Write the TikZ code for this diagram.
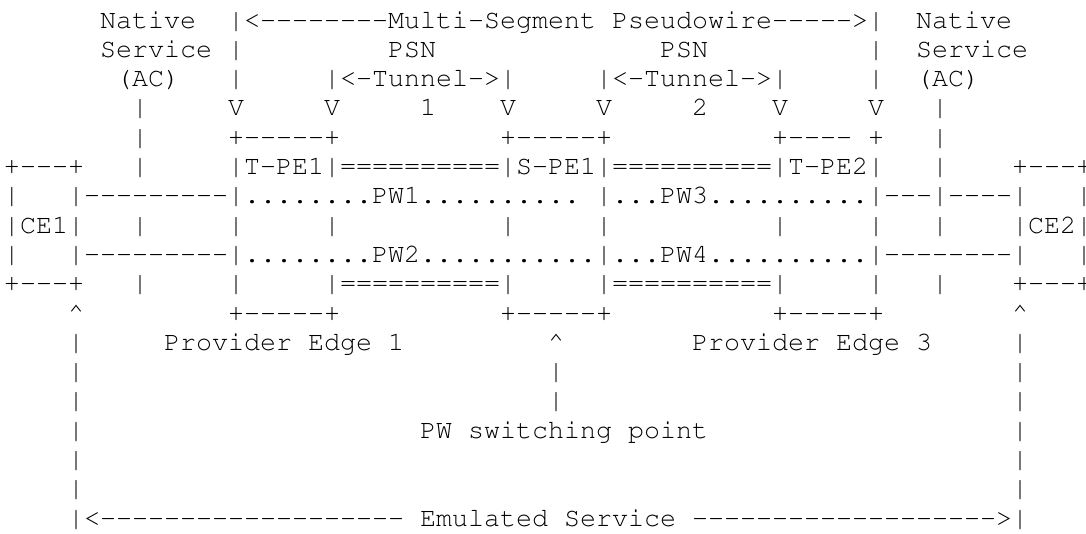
\documentclass[tikz,border=0pt]{standalone}
\usepackage[T1,TU]{fontenc}
\ExplSyntaxOn
\cs_new:Npn \dsh #1 { \prg_replicate:nn {#1} { -{} } }
\cs_new:Npn \eqs #1 { \prg_replicate:nn {#1} { = } }
\cs_new:Npn \dts #1 { \prg_replicate:nn {#1} { . } }
\ExplSyntaxOff
\newcommand\ascii[4]{\node[txt] (#1) at ({4+16*(#2)},{28+29.3*((#3)-1)}) {#4};}
\newcommand\crt{\char94}
\begin{document}
\begin{tikzpicture}[x=1pt,y=-1pt,
  txt/.style={anchor=base west,inner sep=0pt,outer sep=0pt,
    font=\fontencoding{T1}\fontfamily{pcr}\fontsize{26.667}{29.3}\selectfont\frenchspacing}]
\fill[white] (0,0) rectangle (1086,533);
\useasboundingbox (0,0) rectangle (1086,533);
% line 1
\ascii{a1}{6}{1}{Native}
\ascii{a2}{14}{1}{|<\dsh{8}Multi-Segment\ Pseudowire\dsh{5}>|}
\ascii{a3}{57}{1}{Native}
% line 2
\ascii{b1}{6}{2}{Service}
\ascii{b2}{14}{2}{|}
\ascii{b3}{24}{2}{PSN}
\ascii{b4}{41}{2}{PSN}
\ascii{b5}{54}{2}{|}
\ascii{b6}{57}{2}{Service}
% line 3
\ascii{c1}{7}{3}{(AC)}
\ascii{c2}{14}{3}{|}
\ascii{c3}{20}{3}{|<-Tunnel->|}
\ascii{c4}{37}{3}{|<-Tunnel->|}
\ascii{c5}{54}{3}{|}
\ascii{c6}{57}{3}{(AC)}
% line 4
\ascii{d1}{8}{4}{|}
\ascii{d2}{14}{4}{V}
\ascii{d3}{20}{4}{V}
\ascii{d4}{26}{4}{1}
\ascii{d5}{31}{4}{V}
\ascii{d6}{37}{4}{V}
\ascii{d7}{43}{4}{2}
\ascii{d8}{48}{4}{V}
\ascii{d9}{54}{4}{V}
\ascii{d10}{58}{4}{|}
% line 5
\ascii{e1}{8}{5}{|}
\ascii{e2}{14}{5}{+\dsh{5}+}
\ascii{e3}{31}{5}{+\dsh{5}+}
\ascii{e4}{48}{5}{+\dsh{4}\ +}
\ascii{e5}{58}{5}{|}
% line 6
\ascii{f1}{0}{6}{+\dsh{3}+}
\ascii{f2}{8}{6}{|}
\ascii{f3}{14}{6}{|T-PE1|\eqs{10}|S-PE1|\eqs{10}|T-PE2|}
\ascii{f4}{58}{6}{|}
\ascii{f5}{63}{6}{+\dsh{3}+}
% line 7
\ascii{g1}{0}{7}{|}
\ascii{g2}{4}{7}{|\dsh{9}|\dts{8}PW1\dts{10}}
\ascii{g3}{37}{7}{|\dts{3}PW3\dts{10}|\dsh{3}|\dsh{4}|}
\ascii{g4}{67}{7}{|}
% line 8
\ascii{h1}{0}{8}{|CE1|}
\ascii{h2}{8}{8}{|}
\ascii{h3}{14}{8}{|}
\ascii{h4}{20}{8}{|}
\ascii{h5}{31}{8}{|}
\ascii{h6}{37}{8}{|}
\ascii{h7}{48}{8}{|}
\ascii{h8}{54}{8}{|}
\ascii{h9}{58}{8}{|}
\ascii{h10}{63}{8}{|CE2|}
% line 9
\ascii{i1}{0}{9}{|}
\ascii{i2}{4}{9}{|\dsh{9}|\dts{8}PW2\dts{11}|\dts{3}PW4\dts{10}|\dsh{8}|}
\ascii{i3}{67}{9}{|}
% line 10
\ascii{j1}{0}{10}{+\dsh{3}+}
\ascii{j2}{8}{10}{|}
\ascii{j3}{14}{10}{|}
\ascii{j4}{20}{10}{|\eqs{10}|}
\ascii{j5}{37}{10}{|\eqs{10}|}
\ascii{j6}{54}{10}{|}
\ascii{j7}{58}{10}{|}
\ascii{j8}{63}{10}{+\dsh{3}+}
% line 11
\ascii{k1}{4}{11}{\crt}
\ascii{k2}{14}{11}{+\dsh{5}+}
\ascii{k3}{31}{11}{+\dsh{5}+}
\ascii{k4}{48}{11}{+\dsh{5}+}
\ascii{k5}{63}{11}{\crt}
% line 12
\ascii{l1}{4}{12}{|}
\ascii{l2}{10}{12}{Provider\ Edge\ 1}
\ascii{l3}{34}{12}{\crt}
\ascii{l4}{43}{12}{Provider\ Edge\ 3}
\ascii{l5}{63}{12}{|}
% line 13
\ascii{m1}{4}{13}{|}
\ascii{m2}{34}{13}{|}
\ascii{m3}{63}{13}{|}
% line 14
\ascii{n1}{4}{14}{|}
\ascii{n2}{34}{14}{|}
\ascii{n3}{63}{14}{|}
% line 15
\ascii{o1}{4}{15}{|}
\ascii{o2}{26}{15}{PW\ switching\ point}
\ascii{o3}{63}{15}{|}
% line 16
\ascii{p1}{4}{16}{|}
\ascii{p2}{63}{16}{|}
% line 17
\ascii{q1}{4}{17}{|}
\ascii{q2}{63}{17}{|}
% line 18
\ascii{r1}{4}{18}{|<\dsh{19}\ Emulated\ Service\ \dsh{19}>|}
\end{tikzpicture}
\end{document}
